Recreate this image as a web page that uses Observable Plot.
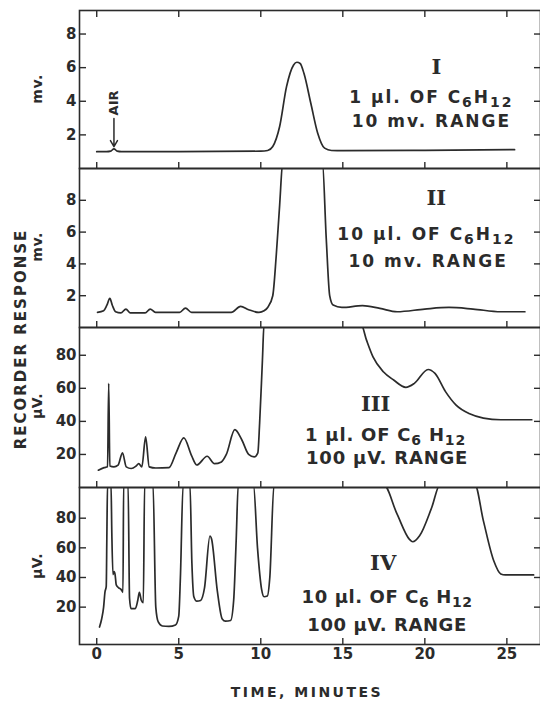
<!DOCTYPE html>
<html>
<head>
<meta charset="utf-8">
<script src="https://cdn.jsdelivr.net/npm/d3@7"></script>
<script src="https://cdn.jsdelivr.net/npm/@observablehq/plot@0.6"></script>
<style>
  body { margin: 0; background: #ffffff; }
  #chart { position: relative; width: 540px; height: 703px; overflow: hidden; font-family: "DejaVu Sans", sans-serif; }
  #chart svg { position: absolute; left: 0; }
  .lbl { position: absolute; font-weight: bold; color: #2b2b2b; white-space: nowrap; transform: translate(-50%, -50%); }
  .rot { transform: translate(-50%, -50%) rotate(-90deg); }
</style>
</head>
<body>
<div id="chart"></div>
<script>
// ---- axes ----
const timeTicks = [0, 5, 10, 15, 20, 25];
const mvTicks = [2, 4, 6, 8];
const uvTicks = [20, 40, 60, 80];
const timeDomain = [-1.05, 27.05];

// ---- Panel I : 1 µl of C6H12, 10 mv range (mv) ----
const p1Time  = [0.0, 0.6, 0.85, 1.05, 1.25, 1.5, 5.0, 10.0, 10.42, 10.73, 11.15, 11.57, 12.0, 12.2, 12.4, 12.63, 13.05, 13.47, 13.89, 14.31, 15.0, 20.0, 25.47];
const p1Value = [1.0, 1.0, 1.03, 1.17, 1.03, 1.0, 1.0, 1.03, 1.07, 1.31, 2.5, 4.87, 6.16, 6.32, 6.25, 5.66, 3.88, 2.1, 1.21, 1.07, 1.06, 1.08, 1.12];

// ---- Panel II : 10 µl of C6H12, 10 mv range (mv) ----
const p2Time  = [0.05, 0.42, 0.62, 0.8, 0.95, 1.15, 1.47, 1.78, 2.05, 2.95, 3.26, 3.58, 5.05, 5.41, 5.78, 8.2, 8.77, 9.26, 9.89, 10.2, 10.42, 10.73, 10.94, 11.15, 11.35, 13.75, 13.99, 14.2, 14.41, 14.94, 16.2, 17.26, 18.31, 19.99, 21.47, 22.94, 24.63, 26.1];
const p2Value = [0.95, 1.05, 1.4, 1.83, 1.4, 0.99, 0.92, 1.16, 0.92, 0.92, 1.16, 0.95, 0.95, 1.22, 0.95, 0.95, 1.33, 1.12, 0.95, 1.05, 1.26, 2.0, 4.5, 7.7, 10.5, 10.5, 5.6, 2.0, 1.41, 1.26, 1.37, 1.2, 0.99, 1.16, 1.26, 1.16, 0.99, 0.99];

// ---- Panel III : 1 µl of C6H12, 100 µV range (µV) ----
const p3Time  = [0.1, 0.45, 0.66, 0.73, 0.8, 1.05, 1.3, 1.57, 1.8, 2.1, 2.4, 2.56, 2.75, 2.98, 3.2, 3.6, 4.4, 4.84, 5.31, 5.78, 6.1, 6.73, 7.18, 7.6, 7.9, 8.42, 8.84, 9.26, 9.6, 9.82, 9.93, 10.1, 10.2, 16.1, 16.45, 16.84, 17.47, 18.1, 18.84, 19.36, 20.2, 20.62, 21.26, 21.89, 22.73, 23.57, 24.63, 26.52];
const p3Value = [10.5, 12, 12.5, 63, 13, 12.5, 13.5, 21, 12.5, 11.5, 13, 14.4, 12.5, 30.6, 12.5, 11.8, 12, 21, 30, 19.3, 13.6, 18.9, 14.4, 15.5, 20, 35, 28.9, 20, 18.5, 21, 39, 77, 99, 99, 89, 79, 70, 65, 60.6, 63, 71.4, 69, 58, 50, 44.6, 42, 41, 41];

// ---- Panel IV : 10 µl of C6H12, 100 µV range (µV) ----
const p4Time  = [0.17, 0.3, 0.42, 0.5, 0.58, 0.62, 0.66, 0.87, 0.92, 0.99, 1.06, 1.12, 1.19, 1.34, 1.48, 1.6, 1.64, 1.91, 2.0, 2.09, 2.35, 2.5, 2.6, 2.72, 2.84, 2.92, 3.43, 3.6, 3.75, 4.0, 4.4, 4.8, 5.0, 5.1, 5.27, 5.68, 5.8, 5.92, 6.1, 6.33, 6.57, 6.9, 7.0, 7.35, 7.65, 7.85, 8.16, 8.35, 8.5, 8.63, 9.55, 9.8, 10.05, 10.2, 10.4, 10.55, 10.81, 17.47, 18.31, 19.05, 19.26, 19.68, 20.42, 20.94, 23.04, 23.57, 24.2, 24.63, 24.9, 26.63];
const p4Value = [6.6, 12, 20, 30, 34, 70, 103, 103, 70, 42, 44, 42, 35, 33, 32, 30, 103, 103, 26, 19, 19, 24.5, 30, 24.5, 23, 103, 103, 20, 10, 7.3, 7, 8, 14, 40, 103, 103, 50, 27, 24, 24.5, 33, 68, 66, 31, 12, 10.5, 11, 25, 65, 103, 103, 60, 32, 27, 27.5, 40, 103, 103, 82.7, 65.9, 64.1, 68.1, 87.2, 103, 103, 78.2, 51.3, 42.4, 41.7, 41.7];

// ---- panel texts ----
const numerals = ["I", "II", "III", "IV"];
const sampleText = ["1 μl. OF C₆H₁₂", "10 μl. OF C₆H₁₂", "1 μl. OF C₆ H₁₂", "10 μl. OF C₆ H₁₂"];
const rangeText = ["10 mv. RANGE", "10 mv. RANGE", "100 μV. RANGE", "100 μV. RANGE"];
const unitText = ["mv.", "mv.", "μV.", "μV."];

const ink = "#2b2b2b";
const chart = document.getElementById("chart");
const subDigits = "₀₁₂₃₄₅₆₇₈₉";

function makePanel(cfg) {
  const pad = 2;
  const mt = pad, mb = cfg.last ? 36 : pad;
  const height = (cfg.bottom - cfg.top) + mt + mb;
  const data = cfg.time.map((t, i) => ({t, v: cfg.value[i]}));
  const notes = [
    {t: cfg.numAt[0], v: cfg.numAt[1], s: cfg.numeral, serif: true},
    {t: cfg.l1At[0], v: cfg.l1At[1], s: cfg.line1},
    {t: cfg.l2At[0], v: cfg.l2At[1], s: cfg.line2}
  ];
  const marks = [
    Plot.frame({stroke: ink, strokeWidth: 1.6}),
    Plot.axisY({ticks: cfg.yTicks, anchor: "left", tickSize: -7, tickPadding: 10, fontSize: 15, fontWeight: "bold", strokeWidth: 1.4, label: null}),
    Plot.axisY({ticks: cfg.yTicks, anchor: "right", tickSize: -7, tickFormat: () => "", strokeWidth: 1.4, label: null}),
    Plot.axisX({ticks: timeTicks, anchor: "bottom", tickSize: -6, tickPadding: 10, tickFormat: cfg.last ? (d => String(d)) : (() => ""), fontSize: 15, fontWeight: "bold", strokeWidth: 1.4, label: null}),
    Plot.line(data, {x: "t", y: "v", curve: "monotone-x", stroke: ink, strokeWidth: 1.7, clip: true}),
    Plot.text(notes.filter(d => d.serif), {x: "t", y: "v", text: "s", fontSize: cfg.numSize, fontWeight: "bold", fontFamily: "DejaVu Serif", fill: ink}),
    Plot.text(notes.filter(d => !d.serif), {x: "t", y: "v", text: "s", fontSize: cfg.fontSize, fontWeight: "bold", fill: ink, ariaLabel: "note"})
  ];
  if (cfg.first) {
    marks.push(Plot.axisX({ticks: timeTicks, anchor: "top", tickSize: -6, tickFormat: () => "", strokeWidth: 1.4, label: null}));
  }
  if (cfg.extra) marks.push(...cfg.extra);
  const svg = Plot.plot({
    width: 540, height,
    marginLeft: 79, marginRight: 0, marginTop: mt, marginBottom: mb,
    x: {domain: timeDomain, label: null},
    y: {domain: cfg.yDomain, label: null},
    style: {background: "none", color: ink, fontFamily: "DejaVu Sans, sans-serif", overflow: "hidden"},
    marks
  });
  svg.style.top = (cfg.top - mt) + "px";
  // wide lettering, and chemical subscripts drawn as lowered digits
  const noteTexts = Array.from(svg.querySelectorAll("text")).filter(el =>
    el.getAttribute("aria-label") === "note" || cfg.line1 === el.textContent || cfg.line2 === el.textContent);
  noteTexts.forEach(el => {
    const sel = d3.select(el).attr("letter-spacing", cfg.spacing);
    const s = el.textContent;
    const parts = s.split(/([₀-₉]+)/).filter(p => p.length);
    sel.text(null);
    let lowered = false;
    parts.forEach(p => {
      const isSub = subDigits.includes(p[0]);
      const ts = sel.append("tspan");
      if (isSub) {
        ts.text([...p].map(c => subDigits.indexOf(c)).join(""))
          .attr("font-size", Math.round(cfg.fontSize * 0.8))
          .attr("dy", lowered ? 0 : 4);
        lowered = true;
      } else {
        ts.text(p).attr("dy", lowered ? -4 : 0);
        lowered = false;
      }
    });
  });
  chart.appendChild(svg);
}

// AIR marker (panel I)
const airTime = 1.05, airTop = 2.97, airTip = 1.3, airLabelAt = 3.9;

makePanel({
  time: p1Time, value: p1Value, yDomain: [0, 9.4], yTicks: mvTicks, top: 10, bottom: 168, first: true,
  numeral: numerals[0], line1: sampleText[0], line2: rangeText[0],
  numAt: [20.7, 6.0], l1At: [20.4, 4.25], l2At: [20.4, 2.8], numSize: 21, fontSize: 17, spacing: 2,
  extra: [
    Plot.arrow([{x1: airTime, y1: airTop, x2: airTime, y2: airTip}], {x1: "x1", y1: "y1", x2: "x2", y2: "y2", stroke: ink, strokeWidth: 1.5, headLength: 7}),
    Plot.text(["AIR"], {x: airTime, y: airLabelAt, text: d => d, rotate: -90, fontSize: 13, fontWeight: "bold", fill: ink})
  ]
});
makePanel({
  time: p2Time, value: p2Value, yDomain: [0, 10], yTicks: mvTicks, top: 168, bottom: 327,
  numeral: numerals[1], line1: sampleText[1], line2: rangeText[1],
  numAt: [20.7, 8.1], l1At: [20.1, 5.85], l2At: [20.2, 4.15], numSize: 21, fontSize: 17, spacing: 2
});
makePanel({
  time: p3Time, value: p3Value, yDomain: [0, 96.8], yTicks: uvTicks, top: 327, bottom: 487,
  numeral: numerals[2], line1: sampleText[2], line2: rangeText[2],
  numAt: [17.0, 50.6], l1At: [17.6, 31.4], l2At: [17.7, 17.6], numSize: 21, fontSize: 18, spacing: 0.8
});
makePanel({
  time: p4Time, value: p4Value, yDomain: [-5.2, 100.7], yTicks: uvTicks, top: 487, bottom: 644, last: true,
  numeral: numerals[3], line1: sampleText[3], line2: rangeText[3],
  numAt: [17.46, 49.3], l1At: [17.7, 26.5], l2At: [17.7, 7.7], numSize: 21, fontSize: 18, spacing: 0.6
});

// HTML labels
function label(text, x, y, size, rotate, spacing) {
  const el = document.createElement("div");
  el.className = "lbl" + (rotate ? " rot" : "");
  el.textContent = text;
  el.style.left = x + "px";
  el.style.top = y + "px";
  el.style.fontSize = size + "px";
  el.style.letterSpacing = spacing + "px";
  chart.appendChild(el);
}
label("RECORDER RESPONSE", 21, 339, 15, true, 2);
const unitCenters = [89, 247, 406, 566];
unitText.forEach((u, i) => label(u, 37, unitCenters[i], 14, true, 0.5));
label("TIME, MINUTES", 307, 692, 14, false, 2.5);
</script>
</body>
</html>
